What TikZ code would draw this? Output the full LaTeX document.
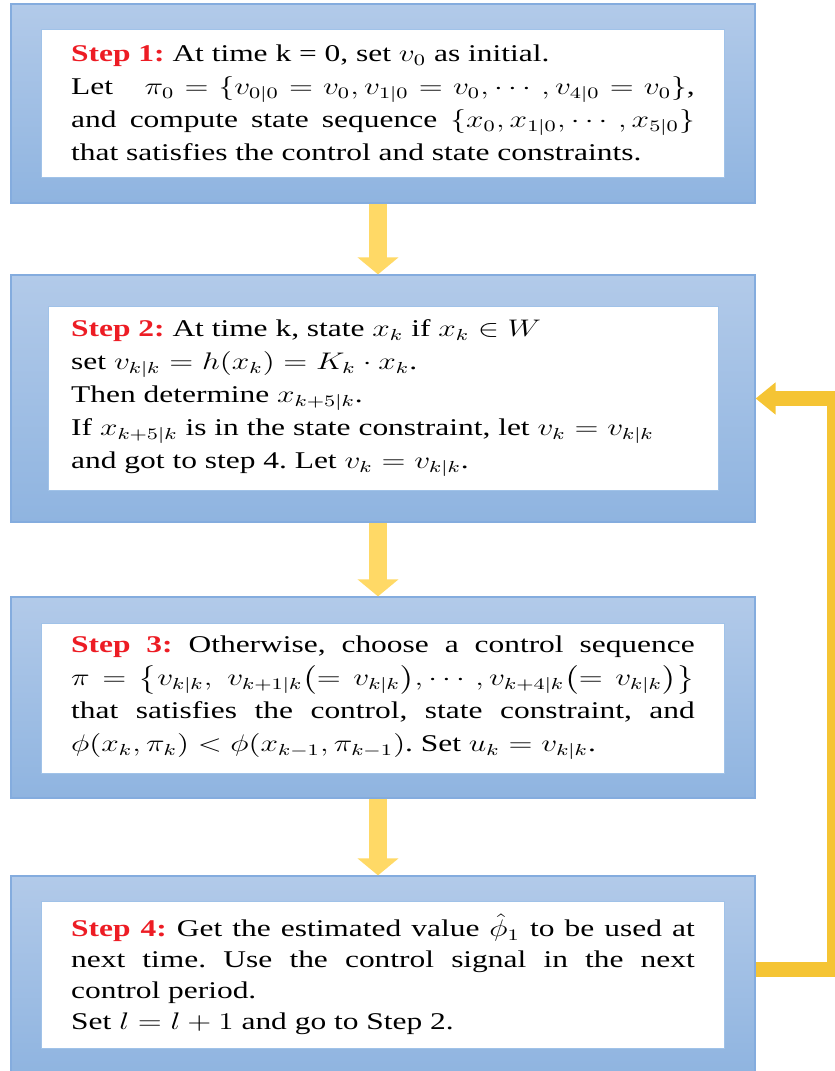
\documentclass[tikz,border=0pt]{standalone}
\usepackage{fontspec}
\setmainfont{Liberation Serif}
\usepackage{amsmath,amssymb}
\usepackage{graphicx}
\usetikzlibrary{arrows.meta,positioning}
\definecolor{frTop}   {RGB}{178,202,233}
\definecolor{frBot}   {RGB}{143,180,224}
\definecolor{frLine}  {RGB}{132,172,222}
\definecolor{boxLine} {RGB}{160,194,232}
\definecolor{stepRed} {RGB}{237, 28, 36}
\definecolor{arrYel}  {RGB}{255,217,102}
\definecolor{loopGold}{RGB}{245,196, 52}
\frenchspacing
\newcommand{\steplbl}[1]{\textcolor{stepRed}{\textbf{Step #1:}}}
% wide text block, as in the figure
\newcommand{\steptext}[1]{\scalebox{1.31}[1]{\parbox{238pt}{#1}}}

\begin{document}
\begin{tikzpicture}[
  x=0.5pt,y=-0.5pt,
  every node/.style={font=\fontsize{12}{16.5}\selectfont},
  frame/.style={draw=frLine,line width=0.6pt,top color=frTop,bottom color=frBot,
                minimum width=372pt,inner sep=0pt},
  stepbox/.style={draw=boxLine,line width=0.5pt,fill=white,minimum width=341.25pt,
                  inner sep=0pt},
  down/.style={arrYel,line width=9pt,-{Triangle[width=20pt,length=8.5pt]}},
  back/.style={loopGold,line width=7.5pt,line join=miter,
               -{Triangle[width=15.5pt,length=10pt]}}
]
\useasboundingbox (0,0) rectangle (835,1071);
% step frames
\node[frame,minimum height=99.5pt]  (fr1) at (383,103.5) {};
\node[frame,minimum height=123.5pt] (fr2) at (383,398.5) {};
\node[frame,minimum height=100.5pt] (fr3) at (383,697.5) {};
\node[frame,minimum height=99pt]    (fr4) at (383,975)   {};
% step texts
\node[stepbox,minimum height=74pt] (s1) at (383,103) {\steptext{%
  \steplbl{1} At time k = 0, set $v_0$ as initial.\\
  Let\quad $\pi_0=\{v_{0|0}=v_0,v_{1|0}=v_0,\cdots,v_{4|0}=v_0\}$,\linebreak
  and compute state sequence $\{x_0,x_{1|0},\cdots,x_{5|0}\}$\linebreak
  that satisfies the control and state constraints.}};
\node[stepbox,minimum width=335pt,minimum height=92pt] (s2) at (383,398) {\steptext{%
  \steplbl{2} At time k, state $x_k$ if $x_k\in W$\\
  set $v_{k|k}=h(x_k)=K_k\cdot x_k$.\\
  Then determine $x_{k+5|k}$.\\
  If $x_{k+5|k}$ is in the state constraint, let $v_k=v_{k|k}$\\
  and got to step 4. Let $v_k=v_{k|k}$.}};
\node[stepbox,minimum height=75pt] (s3) at (383,698) {\steptext{%
  \steplbl{3} Otherwise, choose a control sequence\linebreak
  $\pi=\bigl\{v_{k|k},\ v_{k+1|k}\bigl(=v_{k|k}\bigr),\cdots,v_{k+4|k}\bigl(=v_{k|k}\bigr)\bigr\}$\linebreak
  that satisfies the control, state constraint, and\linebreak
  $\phi(x_k,\pi_k)<\phi(x_{k-1},\pi_{k-1})$. Set $u_k=v_{k|k}$.}};
\node[stepbox,minimum height=73.5pt,font=\fontsize{12}{15.5}\selectfont] (s4) at (383,974.5) {\steptext{%
  \steplbl{4} Get the estimated value $\hat{\phi}_1$ to be used at\linebreak
  next time. Use the control signal in the next\linebreak
  control period.\\
  Set $l=l+1$ and go to Step 2.}};
% flow
\draw[down] ([xshift=-2.5pt]fr1.south) -- ([xshift=-2.5pt]fr2.north);
\draw[down] ([xshift=-2.5pt]fr2.south) -- ([xshift=-2.5pt]fr3.north);
\draw[down] ([xshift=-2.5pt]fr3.south) -- ([xshift=-2.5pt]fr4.north);
\coordinate (loop) at (834,0);
\draw[back] ([yshift=3pt]fr4.east) -| (loop |- fr2.east) -- (fr2.east);
\end{tikzpicture}
\end{document}
